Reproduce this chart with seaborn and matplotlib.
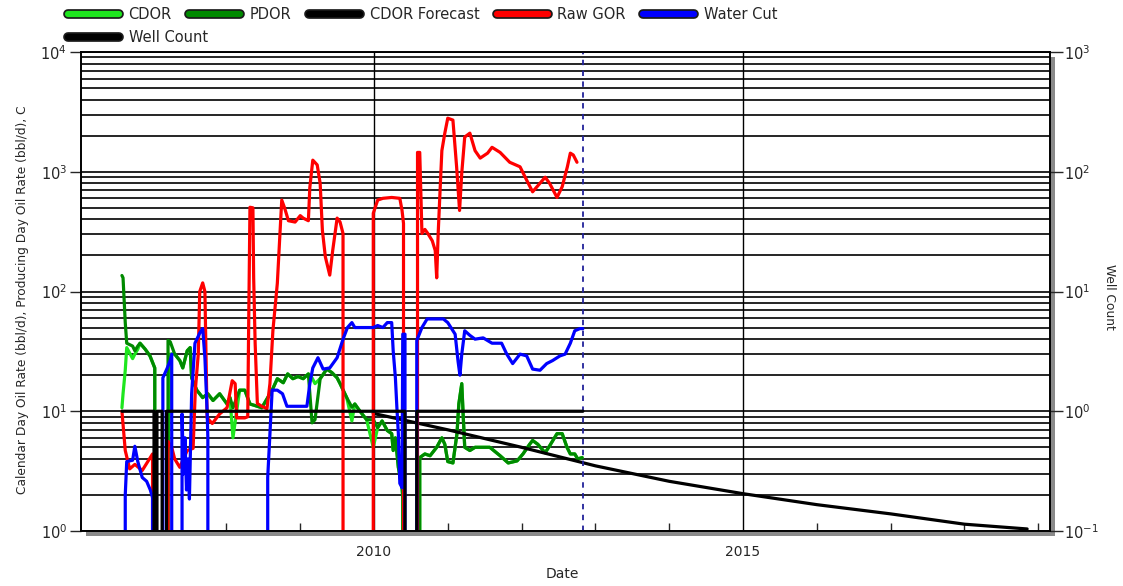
import numpy as np
import pandas as pd
import matplotlib
matplotlib.use("Agg")
import matplotlib.pyplot as plt
import matplotlib.dates as mdates
import matplotlib.patheffects as pe
from matplotlib.lines import Line2D
from matplotlib.patches import Rectangle
from matplotlib.ticker import LogLocator, LogFormatterMathtext, NullFormatter
import seaborn as sns

# ---------------- data (dates as decimal years) ----------------
oil_years = [
    2006.585, 2006.60, 2006.63, 2006.65, 2006.73, 2006.76, 2006.80, 2006.83, 2006.90, 2006.965, 2007.03,
    2007.05, 2007.19,
    2007.21, 2007.24, 2007.30, 2007.37, 2007.41, 2007.47, 2007.51, 2007.53, 2007.60, 2007.68, 2007.75, 2007.82, 2007.91,
    2008.01, 2008.05, 2008.09, 2008.18, 2008.25, 2008.32, 2008.42, 2008.48, 2008.56, 2008.62, 2008.69, 2008.77, 2008.83, 2008.90, 2008.97,
    2009.04, 2009.11, 2009.16, 2009.20, 2009.27, 2009.36, 2009.43, 2009.50, 2009.54, 2009.63, 2009.70, 2009.74, 2009.81, 2009.90, 2009.99,
    2010.05, 2010.11, 2010.18, 2010.24, 2010.26, 2010.29, 2010.33, 2010.38, 2010.39, 2010.41, 2010.60,
    2010.62, 2010.69, 2010.76, 2010.85, 2010.92, 2010.96, 2011.00, 2011.07, 2011.125, 2011.15, 2011.19, 2011.21, 2011.23, 2011.30, 2011.37, 2011.48, 2011.57, 2011.71, 2011.82, 2011.94,
    2012.02, 2012.11, 2012.15, 2012.22, 2012.32, 2012.385, 2012.48, 2012.55, 2012.615, 2012.66, 2012.72, 2012.76, 2012.82,
]
pdor = [
    136, 130, 55, 37, 35, 32, 35, 37, 33, 29, 23,
    0, 0,
    39, 38, 30, 26.5, 23, 32, 34, 19, 15, 13, 14, 12.3, 14,
    11.5, 13, 10.7, 15, 15, 11.5, 11, 10.7, 13, 15, 18.7, 17.3, 20.5, 18.7, 19.5,
    18.7, 20.5, 8, 8.5, 18.7, 22.5, 21, 19, 17, 13, 10.8, 11.5, 10, 8.5, 8.5,
    7.3, 8.3, 6.9, 6.5, 4.7, 6.0, 3.4, 2.3, 1.9, 0, 0,
    4.1, 4.4, 4.25, 5.0, 6.0, 5.3, 3.8, 3.7, 6.5, 11.5, 17, 9, 5, 4.7, 5.0, 5.0, 5.0, 4.25, 3.7, 3.85,
    4.4, 5.3, 5.7, 5.3, 4.5, 5.2, 6.5, 6.5, 5.0, 4.4, 4.4, 4.0, 4.1,
]
cdor = [
    10.7, 14, 22, 34, 27.5, 30, 33, 37, 33, 29, 23,
    0, 0,
    3.8, 30, 30, 26.5, 23, 32, 34, 19, 15, 13, 14, 12.3, 14,
    11.5, 13, 6.0, 15, 15, 11.5, 11, 10.7, 13, 15, 18.7, 17.3, 20.5, 18.7, 19.5,
    18.7, 20.5, 19, 17, 18.7, 22.5, 21, 19, 17, 13, 8.3, 11.5, 10, 8.5, 5.0,
    7.3, 8.3, 6.9, 6.5, 4.7, 6.0, 3.4, 2.3, 1.9, 0, 0,
    4.1, 4.4, 4.25, 5.0, 6.0, 5.3, 3.8, 3.7, 6.5, 11.5, 17, 9, 5, 4.7, 5.0, 5.0, 5.0, 4.25, 3.7, 3.85,
    4.4, 5.3, 5.7, 5.3, 4.5, 5.2, 6.5, 6.5, 5.0, 4.4, 4.4, 4.0, 4.1,
]

gor_years = [
    2006.585, 2006.63, 2006.69, 2006.76, 2006.86, 2007.00,
    2007.03, 2007.20,
    2007.21, 2007.26, 2007.30, 2007.37, 2007.47, 2007.55, 2007.58, 2007.62, 2007.64, 2007.68, 2007.71, 2007.72, 2007.74, 2007.81, 2007.91,
    2008.01, 2008.08, 2008.12, 2008.14, 2008.25, 2008.29, 2008.30, 2008.32, 2008.36, 2008.37, 2008.39, 2008.42, 2008.48, 2008.55, 2008.59, 2008.63, 2008.69, 2008.73, 2008.75, 2008.79, 2008.84, 2008.93,
    2009.00, 2009.04, 2009.11, 2009.13, 2009.17, 2009.23, 2009.27, 2009.30, 2009.34, 2009.40, 2009.44, 2009.50, 2009.54, 2009.58,
    2009.60, 2009.97,
    2009.99, 2010.05, 2010.12, 2010.24, 2010.35, 2010.38, 2010.40,
    2010.43, 2010.57,
    2010.59, 2010.62, 2010.65, 2010.69, 2010.73, 2010.79, 2010.83, 2010.85, 2010.87, 2010.89, 2010.92, 2010.96, 2011.00, 2011.07, 2011.12, 2011.16, 2011.19, 2011.23, 2011.30, 2011.37, 2011.44, 2011.54, 2011.60, 2011.71, 2011.84, 2011.98,
    2012.07, 2012.15, 2012.32, 2012.38, 2012.48, 2012.55, 2012.62, 2012.66, 2012.70, 2012.75,
]
raw_gor = [
    10, 4.7, 3.3, 3.6, 3.2, 4.4,
    0, 0,
    5.6, 5.0, 4.0, 3.4, 4.7, 4.9, 15, 30, 100, 118, 100, 44, 8.8, 7.9, 9.5,
    10.7, 18, 17, 8.8, 8.8, 9.0, 37, 505, 500, 130, 37, 11.6, 11, 10.5, 17, 47, 117, 343, 580, 495, 390, 380,
    430, 410, 390, 740, 1250, 1140, 800, 325, 195, 137, 220, 410, 380, 305,
    0, 0,
    450, 580, 600, 610, 600, 475, 370,
    0, 0,
    1450, 1450, 305, 330, 305, 265, 220, 130, 305, 580, 1500, 2100, 2800, 2700, 1100, 475, 980, 1950, 2100, 1500, 1300, 1430, 1600, 1450, 1200, 1100,
    850, 680, 900, 800, 610, 750, 1100, 1430, 1380, 1200,
]

wcut_years = [
    2006.585, 2006.63, 2006.65, 2006.73, 2006.76, 2006.80, 2006.86, 2006.92, 2006.97, 2007.00,
    2007.03, 2007.12,
    2007.14, 2007.20, 2007.24, 2007.26,
    2007.28, 2007.37,
    2007.40, 2007.42, 2007.44, 2007.46, 2007.48, 2007.50, 2007.53, 2007.575, 2007.64, 2007.68, 2007.71, 2007.74, 2007.75,
    2007.77, 2008.55,
    2008.56, 2008.62, 2008.69, 2008.76, 2008.82, 2008.90, 2009.09, 2009.13, 2009.17, 2009.24, 2009.31, 2009.40, 2009.50, 2009.58, 2009.64, 2009.70, 2009.74, 2009.99,
    2010.05, 2010.12, 2010.18, 2010.24, 2010.26, 2010.29, 2010.31, 2010.33, 2010.35, 2010.38, 2010.39, 2010.42,
    2010.43, 2010.57,
    2010.58, 2010.65, 2010.72, 2010.94, 2011.00, 2011.10, 2011.14, 2011.165, 2011.19, 2011.23, 2011.30, 2011.37, 2011.48, 2011.60, 2011.73, 2011.80, 2011.88, 2011.98,
    2012.07, 2012.15, 2012.25, 2012.34, 2012.42, 2012.52, 2012.59, 2012.66, 2012.72, 2012.79, 2012.83,
]
water_cut = [
    0, 2.0, 3.8, 3.9, 5.1, 3.8, 2.8, 2.6, 2.2, 1.9,
    0, 0,
    19, 23, 26.5, 30,
    0, 0,
    9.5, 3.0, 6.0, 2.2, 4.0, 1.85, 14, 37, 45, 49, 28, 10, 6,
    0, 0,
    2.8, 15, 15, 14, 11, 11, 11, 17, 23, 28, 22.5, 23, 28, 40, 50, 55, 50, 50,
    52, 50, 55, 55, 32, 19, 10.8, 6.5, 2.5, 2.3, 44, 44,
    0, 0,
    39, 50, 59, 59, 55, 44, 26, 20, 30, 47, 43, 40, 41, 37, 37, 30, 25, 30,
    29, 22.5, 22, 25, 26.5, 29, 30, 37, 47, 49, 49,
]

well_years = [2006.585, 2007.02, 2007.035, 2007.06, 2007.13, 2007.16, 2007.19,
              2010.42, 2010.45, 2010.56, 2010.58, 2012.83]
well_count = [1, 1, 0, 1, 1, 0, 1,
              1, 0, 0, 1, 1]

forecast_years = [2009.99, 2011.0, 2012.0, 2013.0, 2014.0, 2015.0, 2016.0, 2017.0, 2018.0, 2018.85]
cdor_forecast = [9.6, 7.0, 5.0, 3.5, 2.6, 2.05, 1.66, 1.39, 1.14, 1.04]

history_end = 2012.83

series_labels = ["CDOR", "PDOR", "CDOR Forecast", "Raw GOR", "Water Cut", "Well Count"]
series_colors = ["#1ee61e", "#008a00", "#000000", "#ff0000", "#0000ff", "#000000"]


def to_date(y):
    yr = int(np.floor(y))
    start = pd.Timestamp(yr, 1, 1)
    end = pd.Timestamp(yr + 1, 1, 1)
    return start + (end - start) * (y - yr)


def dates(years):
    return pd.Series([to_date(y) for y in years])


# ---------------- figure ----------------
sns.set_style("white")
plt.rcParams["font.family"] = ["DejaVu Sans"]

W, H = 1123, 586
fig = plt.figure(figsize=(W / 100, H / 100), dpi=100)
fig.patch.set_facecolor("white")

x0, x1, y0, y1 = 81, 1050, 52, 531
L, B = x0 / W, 1 - y1 / H
AW, AH = (x1 - x0) / W, (y1 - y0) / H
ax = fig.add_axes([L, B, AW, AH])
ax.set_facecolor("white")

# grey drop shadow behind the plotting frame
fig.patches.append(Rectangle((L + 5 / W, B - 5 / H), AW, AH, transform=fig.transFigure,
                             facecolor="#8a8a8a", edgecolor="none", zorder=-5))

lw = 2.3
kw = dict(estimator=None, sort=False, legend=False, ax=ax, linewidth=lw)
sns.lineplot(x=dates(oil_years), y=cdor, color=series_colors[0], **kw)
sns.lineplot(x=dates(oil_years), y=pdor, color=series_colors[1], **kw)
sns.lineplot(x=dates(forecast_years), y=cdor_forecast, color=series_colors[2], **kw)
sns.lineplot(x=dates(gor_years), y=raw_gor, color=series_colors[3], **kw)
sns.lineplot(x=dates(wcut_years), y=water_cut, color=series_colors[4], **kw)

ax2 = ax.twinx()
sns.lineplot(x=dates(well_years), y=well_count, color=series_colors[5], estimator=None,
             sort=False, legend=False, ax=ax2, linewidth=lw)

ax.axvline(to_date(history_end), color="#22229a", linestyle=(0, (3, 3)), linewidth=1.3, zorder=3)

# ---------------- scales ----------------
ax.set_yscale("log", nonpositive="clip")
ax.set_ylim(1, 1e4)
ax2.set_yscale("log", nonpositive="clip")
ax2.set_ylim(0.1, 1e3)
ax.set_xlim(to_date(2006.03), to_date(2019.16))

for a in (ax, ax2):
    a.yaxis.set_major_locator(LogLocator(base=10, numticks=10))
    a.yaxis.set_minor_locator(LogLocator(base=10, subs=np.arange(2, 10), numticks=20))
    a.yaxis.set_major_formatter(LogFormatterMathtext())
    a.yaxis.set_minor_formatter(NullFormatter())

ax.xaxis.set_major_locator(mdates.YearLocator(5))
ax.xaxis.set_minor_locator(mdates.YearLocator(1))
ax.xaxis.set_major_formatter(mdates.DateFormatter("%Y"))

ax.set_axisbelow(True)
ax.grid(True, which="both", axis="y", color="black", linewidth=1.2)
ax.grid(True, which="major", axis="x", color="black", linewidth=1.0)
ax2.grid(False)

ax.tick_params(axis="y", which="major", direction="out", length=8, width=1, pad=2, labelsize=10.5)
ax.tick_params(axis="y", which="minor", length=0)
ax2.tick_params(axis="y", which="major", direction="out", length=9, width=1, pad=1, labelsize=10.5)
ax2.tick_params(axis="y", which="minor", length=0)
ax.tick_params(axis="x", which="major", direction="out", length=4, width=1, pad=6, labelsize=10)
ax.tick_params(axis="x", which="minor", direction="in", length=6, width=1, bottom=True)

for a in (ax, ax2):
    for s in a.spines.values():
        s.set_color("black")
        s.set_linewidth(1.2)
        s.set_visible(True)

ax.set_ylabel("Calendar Day Oil Rate (bbl/d), Producing Day Oil Rate (bbl/d), C", fontsize=8.8)
ax.yaxis.set_label_coords((29 - x0) / (x1 - x0), (y1 - 300) / (y1 - y0))
ax2.set_ylabel("Well Count", fontsize=8.8, rotation=-90, va="center")
ax2.yaxis.set_label_coords((1110 - x0) / (x1 - x0), (y1 - 297) / (y1 - y0))
ax.set_xlabel("Date", fontsize=10)
ax.xaxis.set_label_coords((562 - x0) / (x1 - x0), (y1 - 567) / (y1 - y0))


# ---------------- legend ----------------
def legend_handle(color):
    effects = [pe.Stroke(linewidth=7, foreground="#1a1a1a"), pe.Normal()]
    return Line2D([], [], color=color, linewidth=4.5, solid_capstyle="round",
                  path_effects=effects)


handles = [legend_handle(c) for c in series_colors]
leg_kw = dict(loc="upper left", frameon=False, handlelength=3.5, handletextpad=0.65,
              columnspacing=1.2, fontsize=10.5, borderaxespad=0, borderpad=0)
fig.legend(handles[:5], series_labels[:5], ncol=5, bbox_to_anchor=(68 / W, 1 - 7 / H), **leg_kw)
fig.legend(handles[5:], series_labels[5:], ncol=1, bbox_to_anchor=(68 / W, 1 - 30 / H), **leg_kw)

fig.savefig("out.png", dpi=100)
